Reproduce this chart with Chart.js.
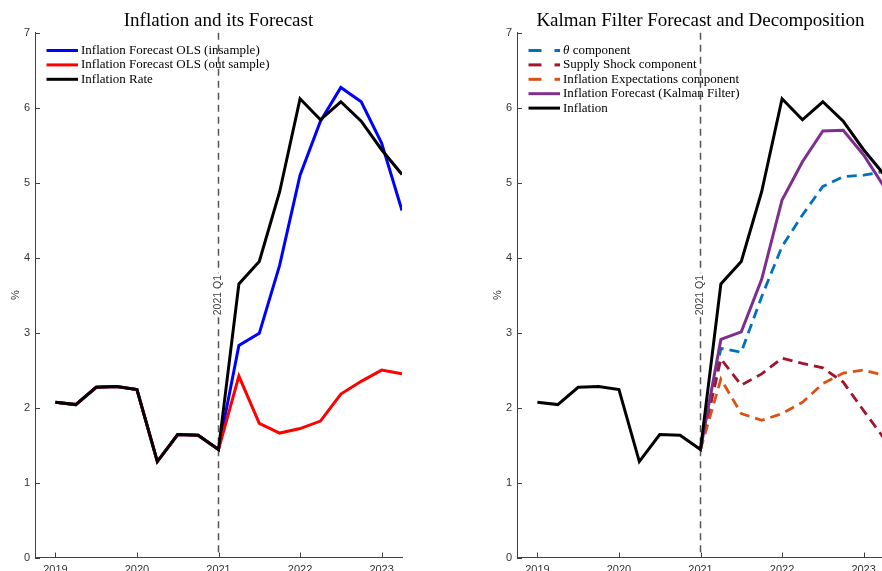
<!DOCTYPE html>
<html>
<head>
<meta charset="utf-8">
<script src="https://cdn.jsdelivr.net/npm/chart.js@4.4.0/dist/chart.umd.min.js"></script>
<style>
  html, body { margin: 0; padding: 0; background: #fff; overflow: hidden; width: 882px; height: 571px; }
  .panel { position: absolute; top: 0; width: 437px; height: 571px; }
  #left { left: 0; }
  #right { left: 482px; }
</style>
</head>
<body>
<div class="panel" id="left"><canvas id="chartLeft"></canvas></div>
<div class="panel" id="right"><canvas id="chartRight"></canvas></div>
<script>
// quarterly dates, 2019 Q1 .. 2023 Q2
const quarters = [2019, 2019.25, 2019.5, 2019.75, 2020, 2020.25, 2020.5, 2020.75,
  2021, 2021.25, 2021.5, 2021.75, 2022, 2022.25, 2022.5, 2022.75, 2023, 2023.25];
const yearTicks = [2019, 2020, 2021, 2022, 2023];
const pctTicks = [0, 1, 2, 3, 4, 5, 6, 7];

const inflation = [2.07, 2.04, 2.27, 2.28, 2.24, 1.28, 1.64, 1.63,
  1.44, 3.65, 3.95, 4.88, 6.12, 5.84, 6.08, 5.82, 5.44, 5.11];
const olsInsample = [2.07, 2.04, 2.27, 2.28, 2.24, 1.28, 1.64, 1.63,
  1.44, 2.83, 2.99, 3.90, 5.10, 5.82, 6.27, 6.08, 5.53, 4.63];
const olsOutsample = [2.07, 2.04, 2.27, 2.28, 2.24, 1.28, 1.64, 1.63,
  1.44, 2.42, 1.79, 1.66, 1.72, 1.82, 2.18, 2.35, 2.50, 2.45];

const thetaComp = [null, null, null, null, null, null, null, null,
  1.44, 2.79, 2.74, 3.48, 4.15, 4.57, 4.95, 5.08, 5.10, 5.15];
const supplyComp = [null, null, null, null, null, null, null, null,
  1.44, 2.65, 2.30, 2.45, 2.66, 2.59, 2.53, 2.34, 1.96, 1.59];
const expectComp = [null, null, null, null, null, null, null, null,
  1.44, 2.38, 1.92, 1.83, 1.92, 2.07, 2.32, 2.46, 2.50, 2.43];
const kalmanForecast = [null, null, null, null, null, null, null, null,
  1.44, 2.91, 3.01, 3.71, 4.77, 5.28, 5.69, 5.70, 5.37, 4.95];

const markerX = 2021;
const markerLabel = "2021 Q1";

function pts(values) {
  return quarters.map((q, i) => ({ x: q, y: values[i] }));
}

function line(label, values, color, width, order, dash) {
  return {
    label: label,
    data: pts(values),
    borderColor: color,
    backgroundColor: color,
    borderWidth: width,
    borderDash: dash || [],
    borderJoinStyle: "miter",
    pointRadius: 0,
    tension: 0,
    order: order
  };
}

// axes ticks pointing inward, legend inside the plot, 2021 Q1 marker
const decor = {
  id: "decor",
  beforeDatasetsDraw(chart) {
    const { ctx, chartArea: a, scales: { x, y } } = chart;
    ctx.save();

    ctx.strokeStyle = "#404040";
    ctx.lineWidth = 1;
    ctx.beginPath();
    y.ticks.forEach(t => {
      const py = Math.round(y.getPixelForValue(t.value)) + 0.5;
      ctx.moveTo(a.left, py);
      ctx.lineTo(a.left + 5, py);
    });
    x.ticks.forEach(t => {
      const px = Math.round(x.getPixelForValue(t.value)) + 0.5;
      ctx.moveTo(px, a.bottom);
      ctx.lineTo(px, a.bottom - 5);
    });
    ctx.stroke();

    // legend
    ctx.textBaseline = "middle";
    ctx.textAlign = "left";
    chart.data.datasets.forEach((ds, i) => {
      const ly = 50.5 + i * 14.4;
      ctx.strokeStyle = ds.borderColor;
      ctx.lineWidth = 3;
      ctx.setLineDash(ds.borderDash.length ? [13, 13] : []);
      ctx.beginPath();
      ctx.moveTo(46.5, ly);
      ctx.lineTo(78, ly);
      ctx.stroke();
      ctx.setLineDash([]);
      ctx.fillStyle = "#000";
      let tx = 81;
      let text = ds.label;
      if (text.startsWith("θ")) {
        ctx.font = 'italic 13px "Liberation Serif"';
        ctx.fillText("θ", tx, ly);
        tx += ctx.measureText("θ").width;
        text = text.slice(1);
      }
      ctx.font = '13px "Liberation Serif"';
      ctx.fillText(text, tx, ly);
    });

    // vertical marker with label
    const vx = x.getPixelForValue(markerX);
    const mid = (a.top + a.bottom) / 2;
    ctx.strokeStyle = "#555";
    ctx.lineWidth = 1.5;
    ctx.setLineDash([7, 5]);
    ctx.beginPath();
    ctx.moveTo(vx, a.top);
    ctx.lineTo(vx, mid - 22);
    ctx.moveTo(vx, mid + 22);
    ctx.lineTo(vx, a.bottom);
    ctx.stroke();
    ctx.setLineDash([]);
    ctx.translate(vx, mid);
    ctx.rotate(-Math.PI / 2);
    ctx.fillStyle = "#404040";
    ctx.font = '10.5px "Liberation Sans"';
    ctx.textAlign = "center";
    ctx.textBaseline = "middle";
    ctx.fillText(markerLabel, 0, 0);
    ctx.restore();
  }
};

function makeOptions(title) {
  const tickFont = { family: '"Liberation Sans", Arial, sans-serif', size: 11 };
  return {
    responsive: true,
    maintainAspectRatio: false,
    animation: false,
    layout: { padding: { left: 0, right: 35, top: 0, bottom: 0 } },
    plugins: {
      legend: { display: false },
      tooltip: { enabled: false },
      title: {
        display: true,
        text: title,
        fullSize: false,
        color: "#000",
        font: { family: '"Liberation Serif", serif', size: 19, weight: "normal" },
        padding: { top: 10, bottom: 0 }
      }
    },
    scales: {
      x: {
        type: "linear",
        min: 2018.75,
        max: 2023.25,
        afterBuildTicks: s => { s.ticks = yearTicks.map(v => ({ value: v })); },
        afterFit: s => { s.height = 13.5; },
        grid: { display: false, drawTicks: false },
        border: { display: true, color: "#404040", width: 1 },
        ticks: { color: "#333", font: tickFont, padding: 6, maxRotation: 0, callback: v => String(v) }
      },
      y: {
        min: 0,
        max: 7,
        afterBuildTicks: s => { s.ticks = pctTicks.map(v => ({ value: v })); },
        afterFit: s => { s.width = 35; },
        grid: { display: false, drawTicks: false },
        border: { display: true, color: "#404040", width: 1 },
        ticks: { color: "#333", font: tickFont, padding: 5, callback: v => String(v) },
        title: { display: true, text: "%", color: "#333", font: tickFont, padding: { top: 9, bottom: 0 } }
      }
    }
  };
}

new Chart(document.getElementById("chartLeft"), {
  type: "line",
  data: {
    datasets: [
      line("Inflation Forecast OLS (insample)", olsInsample, "#0000FF", 3, 2),
      line("Inflation Forecast OLS (out sample)", olsOutsample, "#FF0000", 3, 1),
      line("Inflation Rate", inflation, "#000000", 3, 0)
    ]
  },
  options: makeOptions("Inflation and its Forecast"),
  plugins: [decor]
});

new Chart(document.getElementById("chartRight"), {
  type: "line",
  data: {
    datasets: [
      line("θ component", thetaComp, "#0072BD", 2.8, 4, [10, 6]),
      line("Supply Shock component", supplyComp, "#A2142F", 2.8, 3, [10, 6]),
      line("Inflation Expectations component", expectComp, "#D95319", 2.8, 2, [10, 6]),
      line("Inflation Forecast (Kalman Filter)", kalmanForecast, "#7E2F8E", 3, 1),
      line("Inflation", inflation, "#000000", 3, 0)
    ]
  },
  options: makeOptions("Kalman Filter Forecast and Decomposition"),
  plugins: [decor]
});
</script>
</body>
</html>
